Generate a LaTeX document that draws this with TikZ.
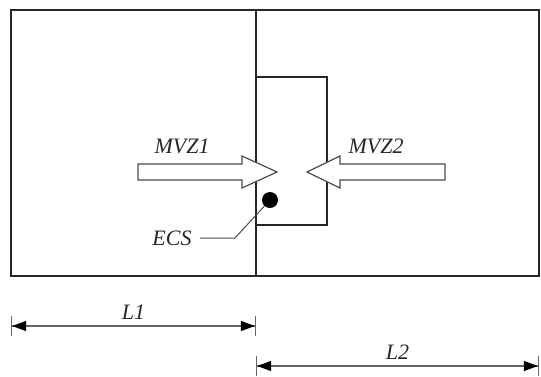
\documentclass[tikz,border=0pt]{standalone}
\usepackage{fontspec}
\setmainfont{Liberation Serif}
\usetikzlibrary{arrows.meta, positioning}

\begin{document}
\begin{tikzpicture}[
    x=0.5pt, y=-0.5pt,
    every node/.style={inner sep=1pt},
    wall/.style={draw, line width=0.65pt, black!85},
    blockarrow/.style={draw, line width=0.6pt, black!70, fill=white},
    leader/.style={draw, line width=0.5pt, black!70},
    dimline/.style={line width=0.7pt, black!60,
        {Bar[width=10pt,line width=0.6pt]Triangle[length=7pt,width=5pt,black]}-{Triangle[length=7pt,width=5pt,black]Bar[width=10pt,line width=0.6pt]}},
    label/.style={font=\itshape\fontsize{11}{13}\selectfont, text=black!85}
]
\useasboundingbox (0,0) rectangle (541,376);

% ============ ROOM ============
\draw[wall] (11,10) rectangle (539,276);
\draw[wall] (256,10) -- (256,276);
\draw[wall] (256,77) -| (327,225) -- (256,225);

% ============ FLOWS ============
\draw[blockarrow] (138,164) -- (242,164) -- (242,156) -- (277,172)
    -- (242,188) -- (242,180) -- (138,180) -- cycle;
\draw[blockarrow] (445,164) -- (340,164) -- (340,156) -- (307,172)
    -- (340,188) -- (340,180) -- (445,180) -- cycle;
\node[label] (mvz1) at (182,146) {MVZ1};
\node[label] (mvz2) at (376,146) {MVZ2};

% ============ ECS ============
\node[circle, fill=black, inner sep=0pt, minimum size=8] (ecs) at (270,200) {};
\node[label, inner sep=4pt] (ecslabel) at (172,238) {ECS};
\coordinate (bend) at (235,238);
\draw[leader] (ecs) -- (bend) -- (ecslabel.east);

% ============ DIMENSIONS ============
\coordinate (l1a) at (11,326);
\coordinate (l1b) at (256,326);
\coordinate (l2a) at (256,366);
\coordinate (l2b) at (539,366);
\draw[dimline] (l1a) -- node[label, above=2pt] (l1) {L1} (l1b);
\draw[dimline] (l2a) -- node[label, above=2pt] (l2) {L2} (l2b);

\end{tikzpicture}
\end{document}
